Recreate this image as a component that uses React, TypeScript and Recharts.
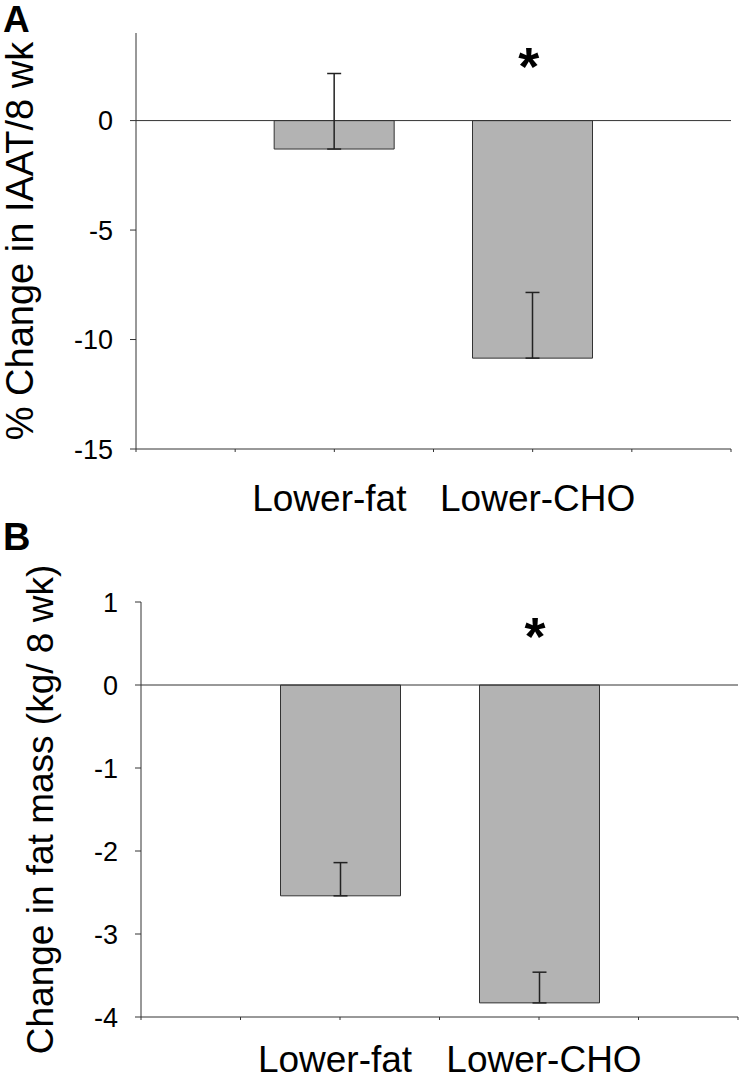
import { Bar, BarChart, ErrorBar, Label, ReferenceDot, ReferenceLine, XAxis, YAxis } from "recharts";

const categories = ["Lower-fat", "Lower-CHO"];
const xSlots = [0, 1, 2, 3, 4, 5, 6];

// A: % change in IAAT over 8 wk
const iaatChange = [-1.3, -10.85];
const iaatSe = [3.45, 3.0];
const iaatTicks = [0, -5, -10, -15];
const iaatDomain: [number, number] = [-15, 4];
const iaatStar = 3.05;

// B: change in fat mass (kg / 8 wk)
const fatChange = [-2.54, -3.83];
const fatSe = [0.4, 0.37];
const fatTicks = [1, 0, -1, -2, -3, -4];
const fatDomain: [number, number] = [-4, 1];
const fatStar = 0.73;

const font = "'Liberation Sans', Arial, sans-serif";
const ink = "#333";

type PanelProps = {
  values: number[];
  errors: number[];
  ticks: number[];
  domain: [number, number];
  star: number;
  yLabel: string;
  yLabelSize: number;
  yLabelX: number;
  height: number;
  margin: { top: number; right: number; bottom: number; left: number };
  axisWidth: number;
  labelDy: number;
};

function Panel(p: PanelProps) {
  const rows = categories.map((name, i) => ({
    name,
    slot: 2 + i * 2,
    value: p.values[i],
    err: [0, p.errors[i]],
  }));

  const renderTick = ({ x, y, payload }: any) => {
    const idx = (payload.value - 2) / 2;
    const name = Number.isInteger(idx) ? categories[idx] : undefined;
    if (!name) return <g />;
    return (
      <text x={x + (idx === 0 ? -5 : 5)} y={y + p.labelDy} textAnchor="middle" fontSize={37} fill="#000">
        {name}
      </text>
    );
  };

  return (
    <BarChart width={740} height={p.height} data={rows} margin={p.margin}>
      <XAxis
        type="number"
        dataKey="slot"
        domain={[0, 6]}
        ticks={xSlots}
        interval={0}
        tickSize={3}
        tick={renderTick}
        stroke={ink}
        height={60}
      />
      <YAxis
        type="number"
        domain={p.domain}
        ticks={p.ticks}
        interval={0}
        tickSize={6}
        tickMargin={17}
        tick={{ fontSize: 27, fill: "#000" }}
        stroke={ink}
        width={p.axisWidth}
      >
        <Label
          content={({ viewBox }: any) => {
            const cy = viewBox.y + viewBox.height / 2;
            return (
              <text
                x={p.yLabelX}
                y={cy}
                transform={`rotate(-90, ${p.yLabelX}, ${cy})`}
                textAnchor="middle"
                dominantBaseline="central"
                fontSize={p.yLabelSize}
                fill="#000"
              >
                {p.yLabel}
              </text>
            );
          }}
        />
      </YAxis>
      <ReferenceLine y={0} stroke={ink} />
      <Bar dataKey="value" fill="#b3b3b3" stroke={ink} barSize={120} isAnimationActive={false}>
        <ErrorBar dataKey="err" width={7} stroke="#222" strokeWidth={1.5} direction="y" />
      </Bar>
      <ReferenceDot
        x={4}
        y={p.star}
        r={0}
        shape={({ cx, cy }: any) => (
          <text x={cx - 4} y={cy + 31} textAnchor="middle" fontSize={54} fontWeight="bold" fill="#000">
            *
          </text>
        )}
      />
    </BarChart>
  );
}

export default function App() {
  return (
    <div style={{ position: "absolute", left: 0, top: 0, width: 740, height: 1083, background: "#fff", fontFamily: font }}>
      <div style={{ position: "absolute", left: 0, top: 0 }}>
        <Panel
          values={iaatChange}
          errors={iaatSe}
          ticks={iaatTicks}
          domain={iaatDomain}
          star={iaatStar}
          yLabel="% Change in IAAT/8 wk"
          yLabelSize={38}
          yLabelX={20}
          height={540}
          margin={{ top: 33, right: 9, bottom: 31, left: 0 }}
          axisWidth={136}
          labelDy={57}
        />
      </div>
      <div style={{ position: "absolute", left: 0, top: 540 }}>
        <Panel
          values={fatChange}
          errors={fatSe}
          ticks={fatTicks}
          domain={fatDomain}
          star={fatStar}
          yLabel="Change in fat mass (kg/ 8 wk)"
          yLabelSize={37}
          yLabelX={40}
          height={543}
          margin={{ top: 62, right: 2, bottom: 6, left: 0 }}
          axisWidth={141}
          labelDy={50}
        />
      </div>
      <svg width={740} height={1083} style={{ position: "absolute", left: 0, top: 0, pointerEvents: "none" }}>
        <text x={3} y={32} fontSize={37} fontWeight="bold" fill="#000">A</text>
        <text x={3} y={550} fontSize={38} fontWeight="bold" fill="#000">B</text>
      </svg>
    </div>
  );
}
